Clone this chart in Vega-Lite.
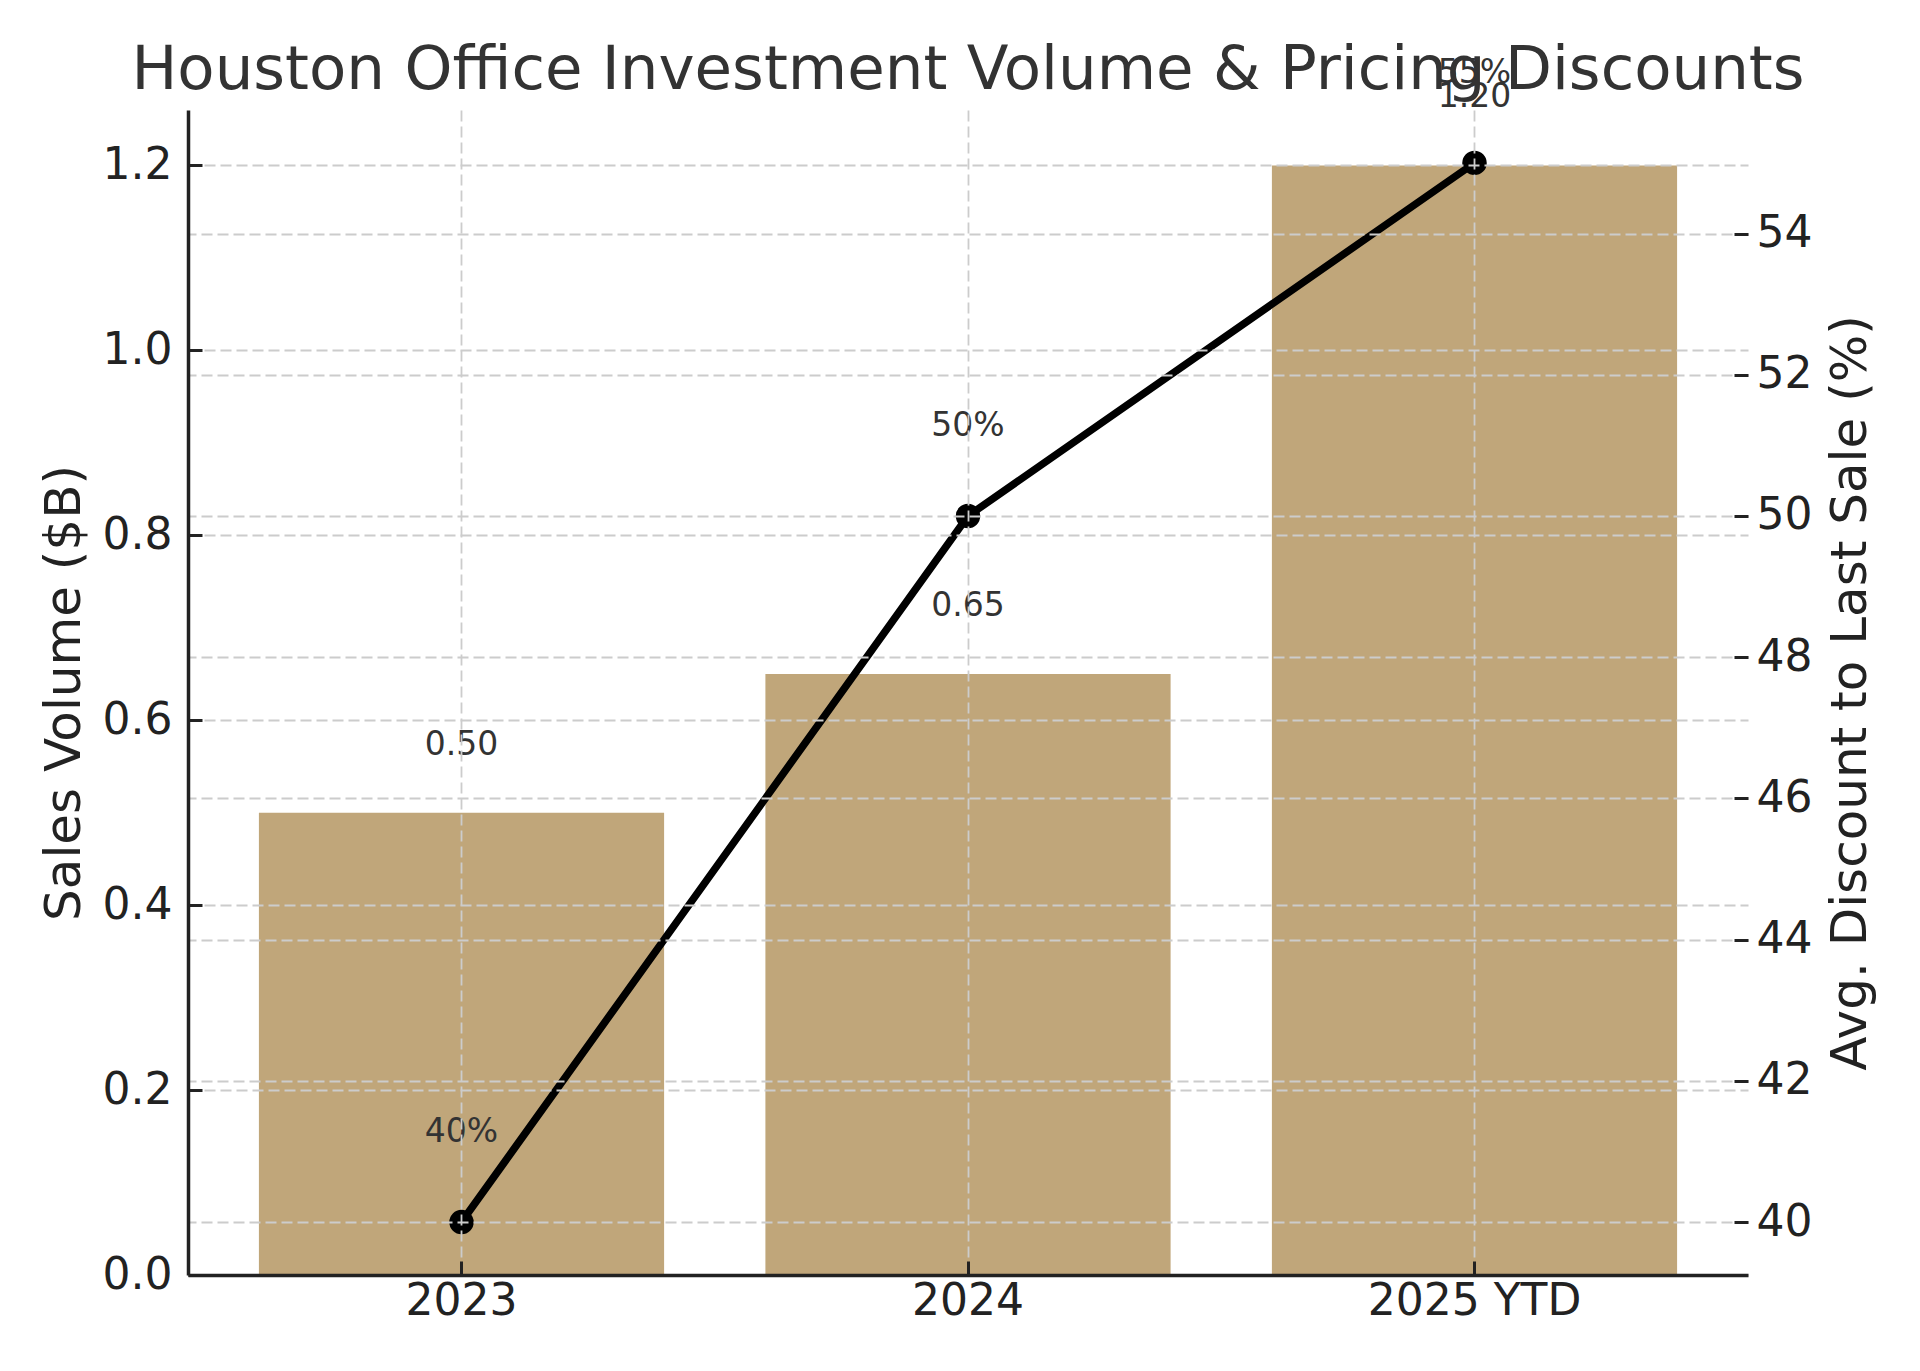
{
  "$schema": "https://vega.github.io/schema/vega-lite/v6.json",
  "width": 1560,
  "height": 1165,
  "autosize": {"type": "none"},
  "padding": {"left": 188, "top": 110, "right": 172, "bottom": 96},
  "background": "white",
  "config": {
    "view": {"stroke": null},
    "font": "DejaVu Sans"
  },
  "title": {
    "text": "Houston Office Investment Volume & Pricing Discounts",
    "fontSize": 61,
    "font": "DejaVu Sans",
    "fontWeight": "normal",
    "color": "#333333",
    "anchor": "middle",
    "frame": "group",
    "baseline": "alphabetic",
    "offset": -93
  },
  "data": {
    "values": [
      {"year": "2023", "volume": 0.5, "discount": 40},
      {"year": "2024", "volume": 0.65, "discount": 50},
      {"year": "2025 YTD", "volume": 1.2, "discount": 55}
    ]
  },
  "encoding": {
    "x": {
      "field": "year",
      "type": "nominal",
      "sort": null,
      "scale": {"paddingInner": 0.2, "paddingOuter": 0.14},
      "axis": {
        "title": null,
        "labelAngle": 0,
        "labelFontSize": 44,
        "labelColor": "#222222",
        "labelPadding": 18,
        "labelLimit": 0,
        "tickSize": -14,
        "tickWidth": 3,
        "tickColor": "#222222",
        "domainColor": "#222222",
        "domainWidth": 3.5,
        "grid": true,
        "gridColor": "#cccccc",
        "gridWidth": 1.8,
        "gridDash": [11, 5],
        "zindex": 1
      }
    }
  },
  "layer": [
    {
      "encoding": {
        "y": {
          "field": "volume",
          "type": "quantitative",
          "scale": {"domain": [0, 1.26], "nice": false, "zero": true},
          "axis": {
            "title": "Sales Volume ($B)",
            "titleFontSize": 50,
            "titleFontWeight": "normal",
            "titleColor": "#222222",
            "titlePadding": 13,
            "values": [0, 0.2, 0.4, 0.6, 0.8, 1.0, 1.2],
            "format": ".1f",
            "labelFontSize": 44,
            "labelColor": "#222222",
            "labelPadding": 30,
            "tickSize": -14,
            "tickWidth": 3,
            "tickColor": "#222222",
            "domainColor": "#222222",
            "domainWidth": 3.5,
            "grid": true,
            "gridColor": "#cccccc",
            "gridWidth": 1.8,
            "gridDash": [11, 5],
            "zindex": 1
          }
        }
      },
      "layer": [
        {"mark": {"type": "bar", "color": "#c0a67a"}},
        {
          "mark": {"type": "text", "fontSize": 33, "color": "#333333", "baseline": "alphabetic", "dy": -58},
          "encoding": {"text": {"field": "volume", "type": "quantitative", "format": ".2f"}}
        }
      ]
    },
    {
      "encoding": {
        "y": {
          "field": "discount",
          "type": "quantitative",
          "scale": {"domain": [39.25, 55.75], "nice": false, "zero": false},
          "axis": {
            "orient": "right",
            "title": "Avg. Discount to Last Sale (%)",
            "titleFontSize": 50,
            "titleFontWeight": "normal",
            "titleColor": "#222222",
            "titleAngle": 270,
            "titleBaseline": "top",
            "titlePadding": 14,
            "values": [40, 42, 44, 46, 48, 50, 52, 54],
            "labelFontSize": 44,
            "labelColor": "#222222",
            "labelPadding": 22,
            "tickSize": -14,
            "tickWidth": 3,
            "tickColor": "#222222",
            "domain": false,
            "grid": true,
            "gridColor": "#cccccc",
            "gridWidth": 1.8,
            "gridDash": [11, 5],
            "zindex": 1
          }
        }
      },
      "layer": [
        {"mark": {"type": "line", "color": "black", "strokeWidth": 7.5}},
        {"mark": {"type": "point", "filled": true, "color": "black", "opacity": 1, "size": 600}},
        {
          "mark": {"type": "text", "fontSize": 33, "color": "#333333", "baseline": "alphabetic", "dy": -80, "text": {"expr": "datum.discount + '%'"}}
        }
      ]
    }
  ],
  "resolve": {"scale": {"y": "independent"}}
}
